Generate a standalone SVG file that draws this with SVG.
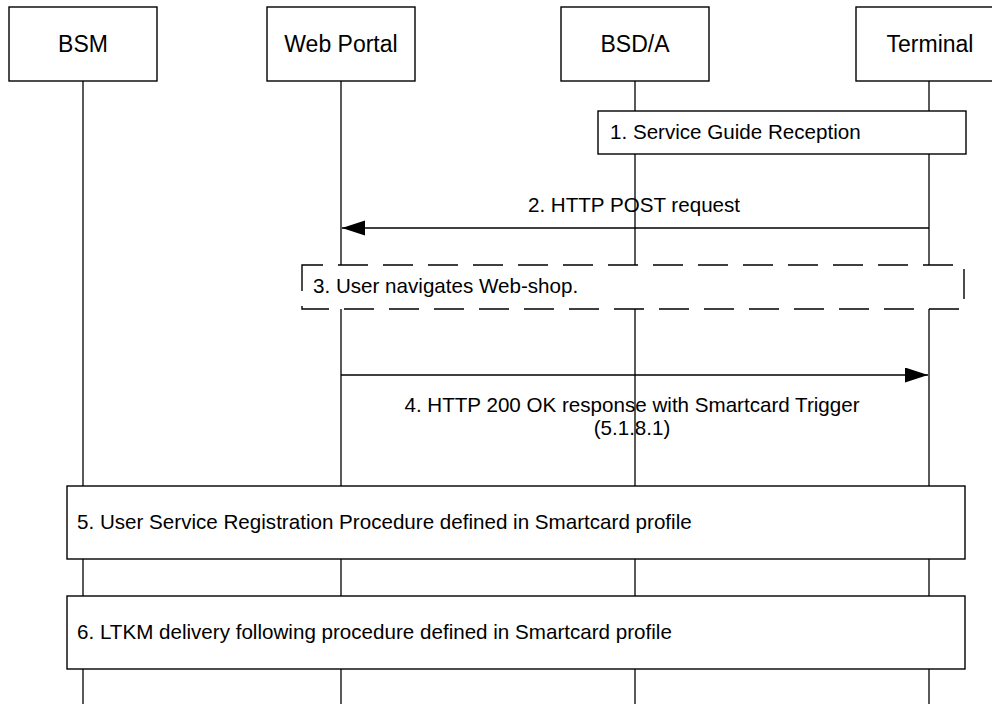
<svg xmlns="http://www.w3.org/2000/svg" width="992" height="704" viewBox="0 0 992 704">
<style>
  .box { fill: #ffffff; stroke: #000000; stroke-width: 1.4; }
  .life { stroke: #000000; stroke-width: 1.3; fill: none; }
  .dash { fill: #ffffff; stroke: #000000; stroke-width: 1.4; stroke-dasharray: 30 15; stroke-dashoffset: 9; }
  .msg { stroke: #000000; stroke-width: 1.3; fill: none; }
  .title { font-family: "Liberation Sans", Arial, sans-serif; font-size: 23px; fill: #000000; text-anchor: middle; }
  .lbl { font-family: "Liberation Sans", Arial, sans-serif; font-size: 20.6px; fill: #000000; }
  .mid { text-anchor: middle; }
</style>
<defs>
  <marker id="arrow" markerUnits="userSpaceOnUse" markerWidth="24" markerHeight="16" refX="23" refY="7.5" orient="auto">
    <path d="M0,0 L23,7.5 L0,15 z" fill="#000000"/>
  </marker>
</defs>
<rect x="0" y="0" width="992" height="704" fill="#ffffff"/>

<g id="bsm">
  <line class="life" x1="83" y1="81" x2="83" y2="704"/>
  <rect class="box" x="9" y="7" width="148" height="74"/>
  <text class="title" x="83" y="52">BSM</text>
</g>
<g id="web-portal">
  <line class="life" x1="341" y1="81" x2="341" y2="704"/>
  <rect class="box" x="267" y="7" width="148" height="74"/>
  <text class="title" x="341" y="52">Web Portal</text>
</g>
<g id="bsda">
  <line class="life" x1="635" y1="81" x2="635" y2="704"/>
  <rect class="box" x="561" y="7" width="148" height="74"/>
  <text class="title" x="635" y="52">BSD/A</text>
</g>
<g id="terminal">
  <line class="life" x1="929" y1="81" x2="929" y2="704"/>
  <rect class="box" x="856" y="7" width="148" height="74"/>
  <text class="title" x="930" y="52">Terminal</text>
</g>

<g id="step1">
  <rect class="box" x="598" y="111" width="368" height="43"/>
  <text class="lbl" x="610" y="138.5">1. Service Guide Reception</text>
</g>
<g id="step3">
  <rect class="dash" x="302" y="265" width="662" height="44"/>
  <text class="lbl" x="313" y="293">3. User navigates Web-shop.</text>
</g>
<g id="step5">
  <rect class="box" x="67" y="486" width="898" height="73"/>
  <text class="lbl" x="77" y="528.5">5. User Service Registration Procedure defined in Smartcard profile</text>
</g>
<g id="step6">
  <rect class="box" x="67" y="596" width="898" height="73"/>
  <text class="lbl" x="77" y="639">6. LTKM delivery following procedure defined in Smartcard profile</text>
</g>

<g id="connectors">
  <g id="msg2">
    <line class="msg" x1="929" y1="228" x2="342" y2="228" marker-end="url(#arrow)"/>
    <text class="lbl mid" x="634" y="212">2. HTTP POST request</text>
  </g>
  <g id="msg4">
    <line class="msg" x1="341" y1="375" x2="928" y2="375" marker-end="url(#arrow)"/>
    <text class="lbl mid" x="632" y="412">4. HTTP 200 OK response with Smartcard Trigger</text>
    <text class="lbl mid" x="632" y="435">(5.1.8.1)</text>
  </g>
</g>
</svg>
